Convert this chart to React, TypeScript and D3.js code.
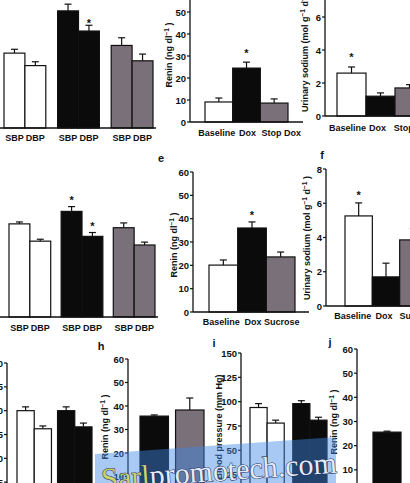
import React from "react";
import * as d3 from "d3";

const W = 410;
const H = 483;
const FONT = "'Liberation Sans Narrow','Liberation Sans',Arial,sans-serif";
const WHITE = "#ffffff";
const BLACK = "#0b0b0b";
const GRAY = "#7a7079";

// ---- Blood pressure (mm Hg), [SBP, DBP] for each treatment group ----
const BP_LABELS = ["SBP", "DBP"];
const bpTopMean = [[103, 90], [147, 126], [111, 95]];
const bpTopSem = [[4, 4], [7, 6], [8, 7]];
const bpTopStar = [[false, false], [false, true], [false, false]];

const bpMidMean = [[122, 104], [135, 109], [118, 100]];
const bpMidSem = [[2, 2], [5, 4], [5, 3]];
const bpMidStar = [[false, false], [true, true], [false, false]];

const bpLowLeftMean = [[100, 81], [100, 83]];
const bpLowLeftSem = [[4, 3], [4, 4]];

const bpLowRightMean = [[94, 78], [98, 81]];
const bpLowRightSem = [[4, 3], [3, 3]];

// ---- Plasma renin (ng dl-1) and urinary sodium (mol g-1 d-1) ----
const reninTopCats = ["Baseline", "Dox", "Stop Dox"];
const reninTopMean = [9.1, 24.5, 8.6];
const reninTopSem = [1.8, 2.7, 1.9];
const reninTopStar = [false, true, false];

const sodiumTopCats = ["Baseline", "Dox", "Stop Dox"];
const sodiumTopMean = [2.6, 1.2, 1.7];
const sodiumTopSem = [0.37, 0.2, 0.2];
const sodiumTopStar = [true, false, false];

const reninMidCats = ["Baseline", "Dox", "Sucrose"];
const reninMidMean = [20.1, 36, 23.6];
const reninMidSem = [2.2, 2.6, 2.1];
const reninMidStar = [false, true, false];

const sodiumMidCats = ["Baseline", "Dox", "Sucrose"];
const sodiumMidMean = [5.26, 1.7, 3.86];
const sodiumMidSem = [0.76, 0.8, 0.64];
const sodiumMidStar = [true, false, false];

const reninLowCats = ["Dox", "Sucrose"];
const reninLowMean = [35.7, 38.3];
const reninLowSem = [0.5, 5.1];

const reninLowRightCats = ["Dox"];
const reninLowRightMean = [25.6];
const reninLowRightSem = [0.4];

// ---- Axis ticks ----
const reninTicks = [0, 10, 20, 30, 40, 50, 60];
const sodiumTicks = [0, 2, 4, 6, 8];
const bpTicks = [25, 50, 75, 100, 125, 150];

type Lin = d3.ScaleLinear<number, number>;

function YAxis({ x, y, ticks, top, bottom }: { x: number; y: Lin; ticks: number[]; top: number; bottom: number }) {
  return (
    <g>
      <line x1={x} x2={x} y1={top} y2={bottom} stroke="#111" strokeWidth={1.3} />
      {ticks.map((t) => (
        <g key={t}>
          <line x1={x - 3} x2={x} y1={y(t)} y2={y(t)} stroke="#111" strokeWidth={1.2} />
          <text x={x - 4} y={y(t) + 3.5} textAnchor="end" fontSize={9.5} fontWeight="bold" fontFamily={FONT} fill="#111">
            {t}
          </text>
        </g>
      ))}
    </g>
  );
}

function YTitle({ x, y, children }: { x: number; y: number; children: React.ReactNode }) {
  return (
    <text transform={`translate(${x},${y}) rotate(-90)`} textAnchor="middle" fontSize={9} fontWeight="bold" fontFamily={FONT} fill="#111">
      {children}
    </text>
  );
}

function Sup({ t }: { t: string }) {
  return (
    <>
      <tspan dy={-3} fontSize={6.5}>{t}</tspan>
      <tspan dy={3}> </tspan>
    </>
  );
}

function BarWithErr({ x, w, y, mean, sem, fill, star, starGap, base }: {
  x: number; w: number; y: Lin; mean: number; sem: number; fill: string; star?: boolean; starGap: number; base: number;
}) {
  const top = y(mean);
  const errTop = y(mean + sem);
  const cx = x + w / 2;
  return (
    <g>
      <line x1={cx} x2={cx} y1={top} y2={errTop} stroke="#111" strokeWidth={1.2} />
      <line x1={cx - 3.5} x2={cx + 3.5} y1={errTop} y2={errTop} stroke="#111" strokeWidth={1.2} />
      <rect x={x} y={top} width={w} height={Math.max(0, base - top)} fill={fill} stroke="#111" strokeWidth={1.2} />
      {star && (
        <text x={cx} y={errTop - starGap + 6} textAnchor="middle" fontSize={11} fontWeight="bold" fontFamily={FONT} fill="#111">
          *
        </text>
      )}
    </g>
  );
}

function CatBars({ cats, mean, sem, star, fills, x0, x1, pad, y, base, labelY, labelDx, starGap }: {
  cats: string[]; mean: number[]; sem: number[]; star?: boolean[]; fills: string[];
  x0: number; x1: number; pad: number; y: Lin; base: number; labelY?: number; labelDx?: number[]; starGap: number;
}) {
  const xb = d3.scaleBand<string>().domain(cats).range([x0, x1]).paddingInner(pad);
  return (
    <g>
      {cats.map((c, i) => (
        <BarWithErr key={c} x={xb(c)!} w={xb.bandwidth()} y={y} mean={mean[i]} sem={sem[i]} fill={fills[i]}
          star={star ? star[i] : false} starGap={starGap} base={base} />
      ))}
      {labelY !== undefined &&
        cats.map((c, i) => (
          <text key={c + "l"} x={xb(c)! + xb.bandwidth() / 2 + (labelDx ? labelDx[i] : 0)} y={labelY} textAnchor="middle"
            fontSize={9} fontWeight="bold" fontFamily={FONT} fill="#111">
            {c}
          </text>
        ))}
    </g>
  );
}

function BpBars({ mean, sem, star, fills, x0, x1, pad, y, base, labelY, starGap }: {
  mean: number[][]; sem: number[][]; star?: boolean[][]; fills: string[];
  x0: number; x1: number; pad: number; y: Lin; base: number; labelY?: number; starGap: number;
}) {
  const groups = mean.map((_, i) => String(i));
  const xg = d3.scaleBand<string>().domain(groups).range([x0, x1]).paddingInner(pad);
  const xm = d3.scaleBand<string>().domain(BP_LABELS).range([0, xg.bandwidth()]);
  return (
    <g>
      {groups.map((g, gi) => (
        <g key={g} transform={`translate(${xg(g)},0)`}>
          {BP_LABELS.map((m, mi) => (
            <BarWithErr key={m} x={xm(m)!} w={xm.bandwidth()} y={y} mean={mean[gi][mi]} sem={sem[gi][mi]}
              fill={fills[gi]} star={star ? star[gi][mi] : false} starGap={starGap} base={base} />
          ))}
          {labelY !== undefined &&
            BP_LABELS.map((m) => (
              <text key={m + "l"} x={xm(m)! + xm.bandwidth() / 2} y={labelY} textAnchor="middle" fontSize={9} fontWeight="bold" fontFamily={FONT} fill="#111">
                {m}
              </text>
            ))}
        </g>
      ))}
    </g>
  );
}

function PanelLetter({ x, y, t }: { x: number; y: number; t: string }) {
  return (
    <text x={x} y={y} textAnchor="middle" fontSize={11} fontWeight="bold" fontFamily="'Liberation Sans',Arial,sans-serif" fill="#111">
      {t}
    </text>
  );
}

export default function App() {
  // vertical scales for each panel
  const yA = d3.scaleLinear().domain([25, 175]).range([128, -16]);
  const yB = d3.scaleLinear().domain([0, 60]).range([122, -10]);
  const yC = d3.scaleLinear().domain([0, 8]).range([116, -16]);
  const yD = d3.scaleLinear().domain([25, 175]).range([317, 173]);
  const yE = d3.scaleLinear().domain([0, 60]).range([312, 172]);
  const yF = d3.scaleLinear().domain([0, 8]).range([306, 169]);
  const yG = d3.scaleLinear().domain([0, 150]).range([506, 363]);
  const yH = d3.scaleLinear().domain([0, 60]).range([500, 359]);
  const yI = d3.scaleLinear().domain([0, 150]).range([499, 353]);
  const yJ = d3.scaleLinear().domain([0, 60]).range([494, 349]);

  const fills3 = [WHITE, BLACK, GRAY];

  return (
    <svg width={W} height={H} viewBox={`0 0 ${W} ${H}`} style={{ position: "absolute", left: 0, top: 0, background: "#fff" }}>
      <rect width={W} height={H} fill="#fff" />

      {/* row 1: blood pressure */}
      <BpBars mean={bpTopMean} sem={bpTopSem} star={bpTopStar} fills={fills3} x0={4} x1={153} pad={0.22} y={yA} base={128} labelY={141} starGap={4} />
      <line x1={0} x2={156} y1={128} y2={128} stroke="#111" strokeWidth={1.3} />

      {/* row 1: renin */}
      <CatBars cats={reninTopCats} mean={reninTopMean} sem={reninTopSem} star={reninTopStar} fills={fills3} x0={205} x1={288} pad={0}
        y={yB} base={122} labelY={136} labelDx={[-2, 1, 7]} starGap={11} />
      <YAxis x={190} y={yB} ticks={reninTicks} top={-2} bottom={122} />
      <line x1={190} x2={303} y1={122} y2={122} stroke="#111" strokeWidth={1.3} />
      <YTitle x={172} y={55}>Renin (ng dl<Sup t="−1" />)</YTitle>

      {/* row 1: urinary sodium */}
      <CatBars cats={sodiumTopCats} mean={sodiumTopMean} sem={sodiumTopSem} star={sodiumTopStar} fills={fills3} x0={337} x1={424} pad={0}
        y={yC} base={116} labelY={131} labelDx={[-4, -3, 4]} starGap={12} />
      <YAxis x={325} y={yC} ticks={sodiumTicks} top={-2} bottom={116} />
      <line x1={325} x2={W} y1={116} y2={116} stroke="#111" strokeWidth={1.3} />
      <YTitle x={308} y={50}>Urinary sodium (mol g<Sup t="−1" />d<Sup t="−1" />)</YTitle>

      <PanelLetter x={161} y={162} t="e" />
      <PanelLetter x={322} y={159} t="f" />

      {/* row 2: blood pressure */}
      <BpBars mean={bpMidMean} sem={bpMidSem} star={bpMidStar} fills={fills3} x0={9} x1={155} pad={0.2} y={yD} base={317} labelY={331} starGap={9} />
      <line x1={0} x2={158} y1={317} y2={317} stroke="#111" strokeWidth={1.3} />

      {/* row 2: renin */}
      <CatBars cats={reninMidCats} mean={reninMidMean} sem={reninMidSem} star={reninMidStar} fills={fills3} x0={209} x1={295} pad={0}
        y={yE} base={312} labelY={325} labelDx={[-2, 1, 1]} starGap={9} />
      <YAxis x={193} y={yE} ticks={reninTicks} top={172} bottom={312} />
      <line x1={193} x2={309} y1={312} y2={312} stroke="#111" strokeWidth={1.3} />
      <YTitle x={177} y={245}>Renin (ng dl<Sup t="−1" />)</YTitle>

      {/* row 2: urinary sodium */}
      <CatBars cats={sodiumMidCats} mean={sodiumMidMean} sem={sodiumMidSem} star={sodiumMidStar} fills={fills3} x0={345} x1={427} pad={0}
        y={yF} base={306} labelY={319} labelDx={[-6, -2, 4]} starGap={10} />
      <YAxis x={326} y={yF} ticks={sodiumTicks} top={169} bottom={306} />
      <line x1={326} x2={W} y1={306} y2={306} stroke="#111" strokeWidth={1.3} />
      <YTitle x={310} y={238}>Urinary sodium (mol g<Sup t="−1" />d<Sup t="−1" />)</YTitle>

      <PanelLetter x={101} y={350} t="h" />
      <PanelLetter x={214} y={347} t="i" />
      <PanelLetter x={330} y={346} t="j" />

      {/* row 3: blood pressure (left) */}
      <BpBars mean={bpLowLeftMean} sem={bpLowLeftSem} fills={[WHITE, BLACK]} x0={17} x1={92} pad={0.15} y={yG} base={H + 5} starGap={9} />
      <YAxis x={7} y={yG} ticks={bpTicks} top={363} bottom={H + 5} />

      {/* row 3: renin */}
      <CatBars cats={reninLowCats} mean={reninLowMean} sem={reninLowSem} fills={[BLACK, GRAY]} x0={140} x1={204} pad={0.2} y={yH} base={H + 5} starGap={9} />
      <YAxis x={128} y={yH} ticks={reninTicks} top={359} bottom={H + 5} />
      <YTitle x={108} y={427}>Renin (ng dl<Sup t="−1" />)</YTitle>

      {/* row 3: blood pressure (right) */}
      <BpBars mean={bpLowRightMean} sem={bpLowRightSem} fills={[WHITE, BLACK]} x0={250} x1={327} pad={0.2} y={yI} base={H + 5} starGap={9} />
      <YAxis x={241} y={yI} ticks={bpTicks} top={353} bottom={H + 5} />
      <YTitle x={222} y={427}>Blood pressure (mm Hg)</YTitle>

      {/* row 3: renin (right) */}
      <CatBars cats={reninLowRightCats} mean={reninLowRightMean} sem={reninLowRightSem} fills={[BLACK]} x0={373} x1={401} pad={0} y={yJ} base={H + 5} starGap={9} />
      <YAxis x={357} y={yJ} ticks={reninTicks} top={349} bottom={H + 5} />
      <YTitle x={337} y={422}>Renin (ng dl<Sup t="−1" />)</YTitle>

      {/* site stamp over the lower row */}
      <polygon points="95,454 336,437 336,483 95,483" fill="rgba(60,135,230,0.45)" />
      <g transform="translate(102,489) rotate(-4)">
        <text x={0} y={0} fontSize={30} fontFamily="'Liberation Serif','DejaVu Serif',serif" stroke="#1b2a60" strokeWidth={1} paintOrder="stroke">
          <tspan fill="#c9d36a">Sarl</tspan>
          <tspan fill="#e4ebf5">promotech.com</tspan>
        </text>
      </g>
    </svg>
  );
}
